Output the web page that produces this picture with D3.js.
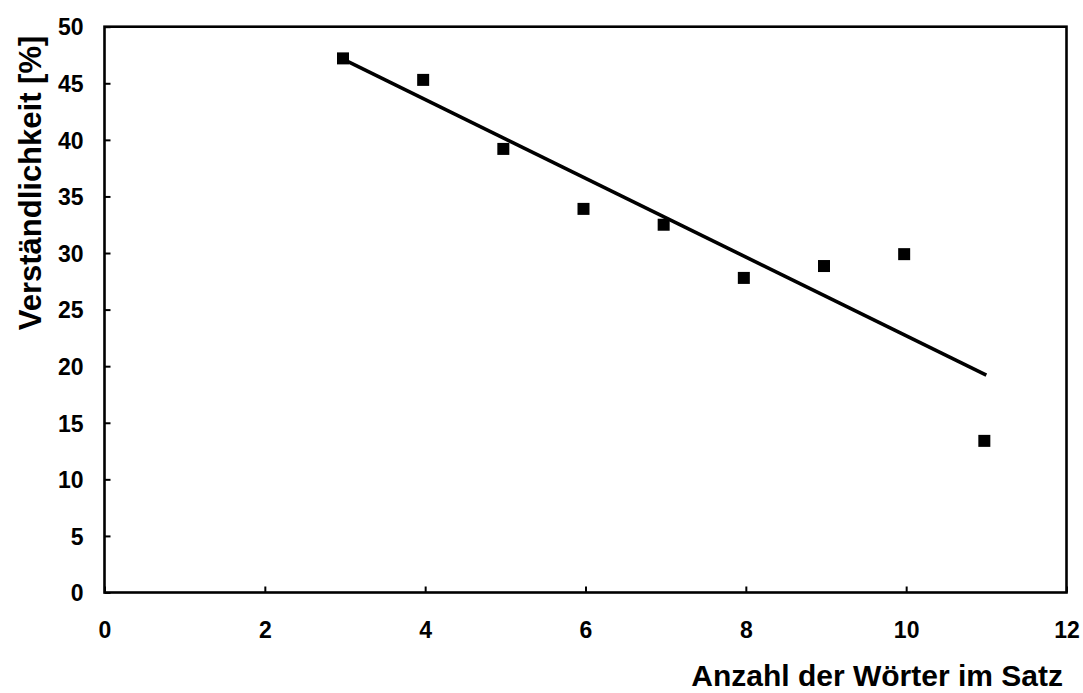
<!DOCTYPE html>
<html>
<head>
<meta charset="utf-8">
<script src="https://cdn.jsdelivr.net/npm/d3@7"></script>
<style>
  html, body { margin: 0; padding: 0; background: #fff; }
  svg text { font-family: "Liberation Sans", Arial, sans-serif; font-weight: bold; fill: #000; }
</style>
</head>
<body>
<svg id="chart" width="1083" height="693"></svg>
<script>
const wordsX = [3, 4, 5, 6, 7, 8, 9, 10, 11];
const comprehension = [47.2, 45.3, 39.2, 33.9, 32.5, 27.8, 28.85, 29.9, 13.4];
const trendX = [3, 11];
const trendY = [47.05, 19.2];
const xTicks = [0, 2, 4, 6, 8, 10, 12];
const yTicks = [0, 5, 10, 15, 20, 25, 30, 35, 40, 45, 50];
const xTitle = "Anzahl der Wörter im Satz";
const yTitle = "Verständlichkeit [%]";

const svg = d3.select("#chart");
const L = 104.5, R = 1066.5, T = 26.7, B = 592.5;
const x = d3.scaleLinear().domain([0, 12]).range([L, R]);
const y = d3.scaleLinear().domain([0, 50]).range([B, T]);

// frame
svg.append("rect").attr("x", L).attr("y", T).attr("width", R - L).attr("height", B - T)
  .attr("fill", "none").attr("stroke", "#000").attr("stroke-width", 2.6);

// axes with inward ticks
const xAxis = d3.axisBottom(x).tickValues(xTicks).tickSize(-6).tickPadding(0).tickFormat(d3.format("d"));
const gx = svg.append("g").attr("transform", `translate(0,${B})`).call(xAxis);
gx.select(".domain").remove();
gx.selectAll(".tick line").attr("stroke", "#000").attr("stroke-width", 2);
gx.selectAll(".tick text").attr("font-size", 23).attr("dy", null).attr("y", 45);

const yAxis = d3.axisLeft(y).tickValues(yTicks).tickSize(-6).tickPadding(0).tickFormat(d3.format("d"));
const gy = svg.append("g").attr("transform", `translate(${L},0)`).call(yAxis);
gy.select(".domain").remove();
gy.selectAll(".tick line").attr("stroke", "#000").attr("stroke-width", 2);
gy.selectAll(".tick text").attr("font-size", 23).attr("x", -21).attr("dy", "0.36em");

// trend line
const line = d3.line().x(d => x(d[0])).y(d => y(d[1]));
svg.append("path").datum(d3.zip(trendX, trendY)).attr("d", line)
  .attr("fill", "none").attr("stroke", "#000").attr("stroke-width", 3.6);

// markers
const ms = 12;
svg.append("g").selectAll("rect").data(d3.zip(wordsX, comprehension)).join("rect")
  .attr("x", d => x(d[0]) - ms / 2 - 2).attr("y", d => y(d[1]) - ms / 2)
  .attr("width", ms).attr("height", ms).attr("fill", "#000");

// titles
svg.append("text").attr("x", 1063).attr("y", 686).attr("text-anchor", "end")
  .attr("font-size", 30).text(xTitle);
svg.append("text").attr("transform", "translate(41,183) rotate(-90)").attr("text-anchor", "middle")
  .attr("font-size", 31).text(yTitle);
</script>
</body>
</html>
